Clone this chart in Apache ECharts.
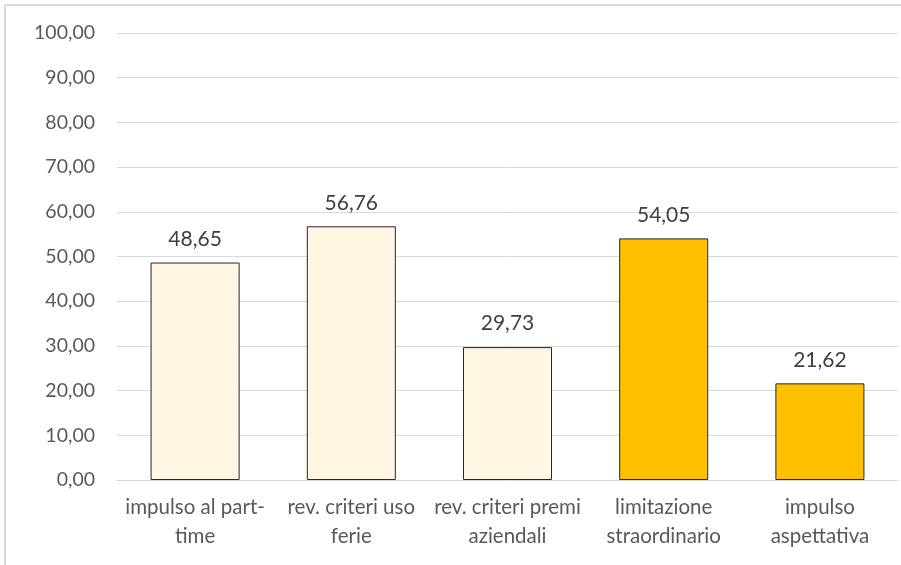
<!doctype html>
<html>
<head>
<meta charset="utf-8">
<title>Grafico</title>
<script src="https://cdn.jsdelivr.net/npm/echarts@6/dist/echarts.min.js"></script>
<style>
html, body { margin: 0; padding: 0; background: #fff; }
#chart { width: 901px; height: 565px; }
</style>
</head>
<body>
<div id="chart"></div>
<script>
var categorie = ['impulso al part-\ntime', 'rev. criteri uso\nferie', 'rev. criteri premi\naziendali', 'limitazione\nstraordinario', 'impulso\naspettativa'];
var valori = [48.65, 56.76, 29.73, 54.05, 21.62];
var colori = ['#FFF7E3', '#FFF7E3', '#FFF7E3', '#FFC000', '#FFC000'];

function virgola(v) {
	return v.toFixed(2).replace('.', ',');
}

var chart = echarts.init(document.getElementById('chart'));
var font = 'Lato, "Open Sans", sans-serif';

var option = {
	animation: false,
	grid: { left: 117, right: 3, top: 33, bottom: 85 },
	graphic: [
		{ type: 'line', shape: { x1: 5, y1: 5, x2: 901, y2: 5 }, style: { stroke: '#d9d9d9', lineWidth: 2 } },
		{ type: 'line', shape: { x1: 5, y1: 5, x2: 5, y2: 565 }, style: { stroke: '#d9d9d9', lineWidth: 2 } }
	],
	xAxis: {
		type: 'category',
		data: categorie,
		axisLine: { lineStyle: { color: '#d9d9d9', width: 1 } },
		axisTick: { show: false },
		axisLabel: {
			interval: 0,
			color: '#595959',
			fontFamily: font,
			fontSize: 20.5,
			lineHeight: 29,
			margin: 13
		}
	},
	yAxis: {
		type: 'value',
		min: 0,
		max: 100,
		interval: 10,
		axisLine: { show: false },
		axisTick: { show: false },
		splitLine: { lineStyle: { color: '#d9d9d9', width: 1 } },
		axisLabel: {
			color: '#595959',
			fontFamily: font,
			fontSize: 19.5,
			margin: 22,
			formatter: function(v) { return virgola(v); }
		}
	},
	series: [{
		type: 'bar',
		barWidth: '57%',
		data: valori.map(function(v, i) {
			return { value: v, itemStyle: { color: colori[i] } };
		}),
		itemStyle: { borderColor: '#262626', borderWidth: 1 },
		label: {
			show: true,
			position: 'top',
			distance: 13,
			color: '#404040',
			fontFamily: font,
			fontSize: 21,
			formatter: function(p) { return virgola(p.value); }
		}
	}]
};
chart.setOption(option);
</script>
</body>
</html>
